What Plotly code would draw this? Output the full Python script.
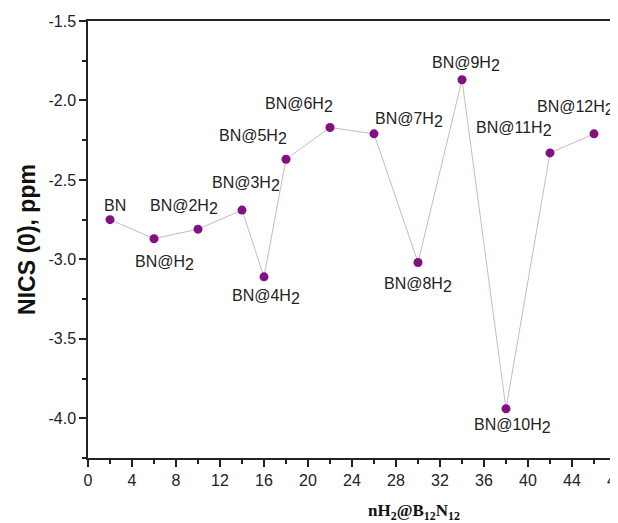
import plotly.graph_objects as go

n_h2 = [2, 6, 10, 14, 16, 18, 22, 26, 30, 34, 38, 42, 46]
nics = [-2.75, -2.87, -2.81, -2.69, -3.11, -2.37, -2.17, -2.21, -3.02, -1.87, -3.94, -2.33, -2.21]
SUB2 = "<sub><span style='font-size:16px'>2</span></sub>"
labels = ["BN", "BN@H" + SUB2, "BN@2H" + SUB2, "BN@3H" + SUB2, "BN@4H" + SUB2,
          "BN@5H" + SUB2, "BN@6H" + SUB2, "BN@7H" + SUB2, "BN@8H" + SUB2,
          "BN@9H" + SUB2, "BN@10H" + SUB2, "BN@11H" + SUB2, "BN@12H" + SUB2]
y_tick_vals = [-4.0, -3.5, -3.0, -2.5, -2.0, -1.5]
y_tick_text = ["-4.0", "-3.5", "-3.0", "-2.5", "-2.0", "-1.5"]
# label offsets in pixels (style)
label_dx = [5, 10, -14, 4, 2, -33, -31, 35, 0, 4, 6, -36, -19]
label_dy = [14, -24, 22, 26, -20, 22, 22, 14, -22, 16, -17, 24, 26]

FONT = "Liberation Sans, Arial"
fig = go.Figure()
fig.add_trace(go.Scatter(
    x=n_h2, y=nics, mode="lines+markers",
    line=dict(color="#c9b9c3", width=1),
    marker=dict(color="#850f7f", size=9),
    showlegend=False,
))

for x, y, t, dx, dy in zip(n_h2, nics, labels, label_dx, label_dy):
    fig.add_annotation(x=x, y=y, text=t, showarrow=False, xshift=dx, yshift=dy,
                       font=dict(family=FONT, size=16, color="#222"))

axis_common = dict(showline=True, linecolor="#222", linewidth=1.5, mirror=True,
                   ticks="outside", tickcolor="#222", ticklen=7, tickwidth=1.5,
                   showgrid=False, zeroline=False, automargin=False,
                   ticklabeloverflow="allow",
                   tickfont=dict(family=FONT, size=16, color="#222"))

fig.update_xaxes(range=[0, 48], dtick=4, tick0=0,
                 minor=dict(dtick=2, ticks="outside", ticklen=4, tickcolor="#222"),
                 **axis_common)
fig.update_yaxes(range=[-4.25, -1.5], tickmode="array", tickvals=y_tick_vals, ticktext=y_tick_text,
                 minor=dict(dtick=0.25, tick0=-1.5, ticks="outside", ticklen=4, tickcolor="#222"),
                 title=dict(text="<b>NICS (0), ppm</b>", standoff=6,
                            font=dict(family=FONT, size=23, color="#111")),
                 **axis_common)

fig.add_annotation(xref="paper", yref="paper", x=(409 - 88) / 520, y=-54 / 437,
                   text="<b>nH<sub>2</sub>@B<sub>12</sub>N<sub>12</sub></b>", showarrow=False,
                   xanchor="center", yanchor="middle",
                   font=dict(family="Liberation Serif, Times New Roman", size=17, color="#111"))

# page body has an 8px default margin, so the figure is shrunk to fit the 618x523 window
fig.update_layout(width=610, height=515, margin=dict(l=80, r=2, t=13, b=65),
                  plot_bgcolor="white", paper_bgcolor="white")
fig.write_html("out.html")
